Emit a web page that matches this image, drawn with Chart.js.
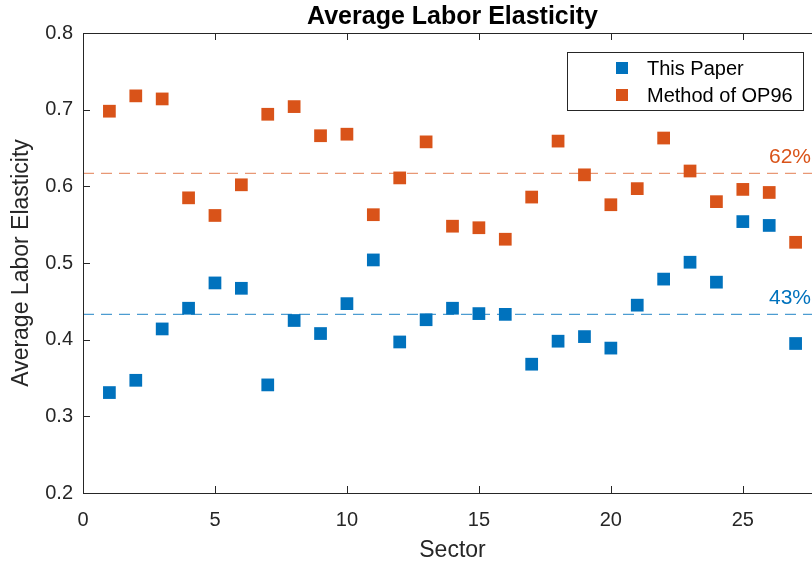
<!DOCTYPE html>
<html>
<head>
<meta charset="utf-8">
<script src="https://cdn.jsdelivr.net/npm/chart.js@4.4.1/dist/chart.umd.min.js"></script>
<style>
  html, body { margin: 0; padding: 0; background: #fff; overflow: hidden; }
  #wrap { width: 904px; height: 567px; }
</style>
</head>
<body>
<div id="wrap"><canvas id="elasticityChart" width="904" height="567"></canvas></div>
<script>
// sectors 1..27
var sectors = [1, 2, 3, 4, 5, 6, 7, 8, 9, 10, 11, 12, 13, 14, 15, 16, 17, 18, 19, 20, 21, 22, 23, 24, 25, 26, 27];
var thisPaper = [0.331, 0.347, 0.414, 0.441, 0.474, 0.467, 0.341, 0.425, 0.408, 0.447, 0.504, 0.397, 0.426, 0.441,
                 0.434, 0.433, 0.368, 0.398, 0.404, 0.389, 0.445, 0.479, 0.501, 0.475, 0.554, 0.549, 0.395];
var methodOP96 = [0.698, 0.718, 0.714, 0.585, 0.562, 0.602, 0.694, 0.704, 0.666, 0.668, 0.563, 0.611, 0.658, 0.548,
                  0.546, 0.531, 0.586, 0.659, 0.615, 0.576, 0.597, 0.663, 0.620, 0.580, 0.596, 0.592, 0.527];
var averages = [0.433, 0.617];   // this paper, OP96
var xTicks = [0, 5, 10, 15, 20, 25];
var yTicks = [0.2, 0.3, 0.4, 0.5, 0.6, 0.7, 0.8];

var blue = '#0072BD';
var orange = '#D95319';
var axisColor = '#262626';
var fontFamily = '"Liberation Sans", Arial, Helvetica, sans-serif';

function toPoints(ys) {
    return sectors.map(function(s, i) { return { x: s, y: ys[i] }; });
}

// box, inward ticks, legend and percent labels (MATLAB look)
var matlabAxes = {
    id: 'matlabAxes',
    afterDatasetsDraw: function(chart) {
        var ctx = chart.ctx;
        var a = chart.chartArea;
        var xs = chart.scales.x, ys = chart.scales.y;
        ctx.save();
        ctx.strokeStyle = axisColor;
        ctx.lineWidth = 1;
        ctx.beginPath();
        ctx.rect(Math.round(a.left) + 0.5, Math.round(a.top) + 0.5, Math.round(a.right - a.left), Math.round(a.bottom - a.top));
        xTicks.forEach(function(v) {
            var px = Math.round(xs.getPixelForValue(v)) + 0.5;
            ctx.moveTo(px, a.bottom); ctx.lineTo(px, a.bottom - 7);
            ctx.moveTo(px, a.top); ctx.lineTo(px, a.top + 7);
        });
        yTicks.forEach(function(v) {
            var py = Math.round(ys.getPixelForValue(v)) + 0.5;
            ctx.moveTo(a.left, py); ctx.lineTo(a.left + 7, py);
            ctx.moveTo(a.right, py); ctx.lineTo(a.right - 7, py);
        });
        ctx.stroke();

        // percent labels above the dashed lines
        ctx.font = '21px ' + fontFamily;
        ctx.textAlign = 'right';
        ctx.textBaseline = 'alphabetic';
        [[averages[1], orange], [averages[0], blue]].forEach(function(p) {
            ctx.fillStyle = p[1];
            ctx.fillText(Math.round(p[0] * 100) + '%', 811, ys.getPixelForValue(p[0]) - 10);
        });

        // legend
        var bx = a.right - 255, by = a.top + 19, bw = 236, bh = 58;
        ctx.fillStyle = '#fff';
        ctx.fillRect(bx, by, bw, bh);
        ctx.strokeStyle = axisColor;
        ctx.strokeRect(bx + 0.5, by + 0.5, bw, bh);
        ctx.font = '20px ' + fontFamily;
        ctx.textAlign = 'left';
        ctx.textBaseline = 'middle';
        [0, 1].forEach(function(i) {
            var ds = chart.data.datasets[i];
            var cy = by + 16 + i * 27;
            ctx.fillStyle = ds.backgroundColor;
            ctx.fillRect(bx + 49, cy - 6, 12, 12);
            ctx.fillStyle = '#000';
            ctx.fillText(ds.label, bx + 80, cy + 1);
        });
        ctx.restore();
    }
};

var ctx = document.getElementById('elasticityChart').getContext('2d');
new Chart(ctx, {
    type: 'scatter',
    data: {
        datasets: [{
            label: 'This Paper',
            data: toPoints(thisPaper),
            backgroundColor: blue,
            borderWidth: 0,
            pointStyle: 'rect',
            pointRadius: 9,
            order: 1
        }, {
            label: 'Method of OP96',
            data: toPoints(methodOP96),
            backgroundColor: orange,
            borderWidth: 0,
            pointStyle: 'rect',
            pointRadius: 9,
            order: 1
        }, {
            type: 'line',
            label: 'avg OP96',
            data: [{ x: 0, y: averages[1] }, { x: 28, y: averages[1] }],
            borderColor: 'rgba(217, 83, 25, 0.6)',
            borderWidth: 1.3,
            borderDash: [11, 7],
            pointRadius: 0,
            order: 2
        }, {
            type: 'line',
            label: 'avg this paper',
            data: [{ x: 0, y: averages[0] }, { x: 28, y: averages[0] }],
            borderColor: 'rgba(0, 114, 189, 0.7)',
            borderWidth: 1.3,
            borderDash: [11, 7],
            pointRadius: 0,
            order: 2
        }]
    },
    options: {
        responsive: false,
        animation: false,
        layout: { padding: { right: 82, left: 0, top: 0, bottom: 0 } },
        plugins: {
            legend: { display: false },
            tooltip: { enabled: false },
            title: {
                display: true,
                fullSize: false,
                text: 'Average Labor Elasticity',
                color: '#000',
                font: { family: fontFamily, size: 25, weight: 'bold', lineHeight: 1.2 },
                padding: { top: 2, bottom: 1 }
            }
        },
        scales: {
            x: {
                type: 'linear',
                min: 0,
                max: 28,
                grid: { display: false },
                border: { display: false },
                ticks: {
                    stepSize: 5,
                    includeBounds: false,
                    color: axisColor,
                    padding: 7,
                    font: { family: fontFamily, size: 20 }
                },
                title: {
                    display: true,
                    text: 'Sector',
                    color: axisColor,
                    font: { family: fontFamily, size: 23 },
                    padding: { top: 4, bottom: 3 }
                },
                afterFit: function(scale) { scale.height = 74; }
            },
            y: {
                min: 0.2,
                max: 0.8,
                grid: { display: false },
                border: { display: false },
                ticks: {
                    stepSize: 0.1,
                    color: axisColor,
                    padding: 2,
                    font: { family: fontFamily, size: 20 },
                    callback: function(v) { return Number(v).toFixed(1); }
                },
                title: {
                    display: true,
                    text: 'Average Labor Elasticity',
                    color: axisColor,
                    font: { family: fontFamily, size: 23 },
                    padding: { top: 8, bottom: 0 }
                },
                afterFit: function(scale) { scale.width = 83; }
            }
        }
    },
    plugins: [matlabAxes]
});
</script>
</body>
</html>
